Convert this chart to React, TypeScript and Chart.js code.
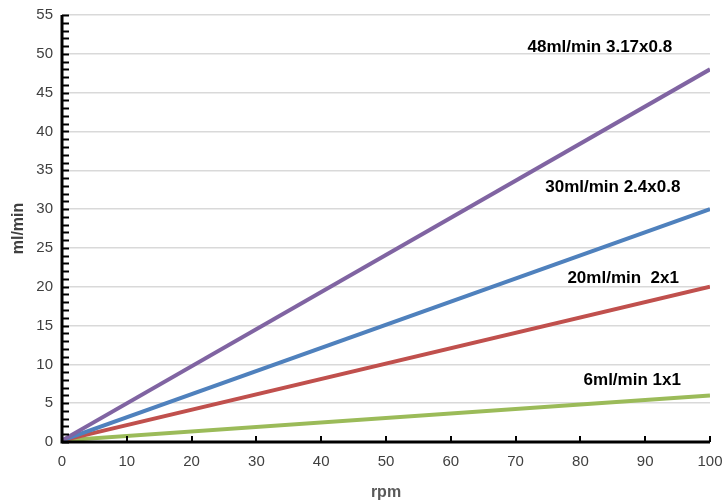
import React, { useEffect, useRef } from "react";
import { Chart, registerables } from "chart.js";
Chart.register(...registerables);

const rpm = [0, 100];
const series48 = [0.2, 48];
const series30 = [0.2, 30];
const series20 = [0.2, 20];
const series6 = [0.2, 6];
const seriesNames = ["48ml/min 3.17x0.8", "30ml/min 2.4x0.8", "20ml/min  2x1", "6ml/min 1x1"];
const seriesColors = ["#8064A2", "#4F81BD", "#C0504D", "#9BBB59"];
const labelPos = [
  [83, 50.9],
  [85, 32.8],
  [86.6, 21.1],
  [88, 8.0],
];

const toPts = (ys: number[]) => rpm.map((x, i) => ({ x, y: ys[i] }));

const axisPlugin = {
  id: "axisPlugin",
  afterDatasetsDraw(chart: any) {
    const { ctx, chartArea, scales } = chart;
    const xs = scales.x;
    const ys = scales.y;
    ctx.save();
    ctx.strokeStyle = "#000";
    ctx.lineWidth = 2;
    for (let v = 0; v <= 55; v += 1) {
      const py = Math.round(ys.getPixelForValue(v)) + 0.5;
      ctx.beginPath();
      ctx.moveTo(chartArea.left, py);
      ctx.lineTo(chartArea.left + 7, py);
      ctx.stroke();
    }
    for (let v = 10; v <= 100; v += 10) {
      const px = Math.round(xs.getPixelForValue(v));
      ctx.beginPath();
      ctx.moveTo(px, chartArea.bottom);
      ctx.lineTo(px, chartArea.bottom - 6);
      ctx.stroke();
    }
    ctx.lineWidth = 3;
    ctx.beginPath();
    ctx.moveTo(chartArea.left, chartArea.top);
    ctx.lineTo(chartArea.left, chartArea.bottom);
    ctx.lineTo(chartArea.right, chartArea.bottom);
    ctx.stroke();
    ctx.fillStyle = "#000";
    ctx.font = "bold 17px 'Liberation Sans', sans-serif";
    ctx.textAlign = "center";
    ctx.textBaseline = "middle";
    seriesNames.forEach((n, i) => {
      ctx.fillText(n, xs.getPixelForValue(labelPos[i][0]), ys.getPixelForValue(labelPos[i][1]));
    });
    ctx.restore();
  },
};

export default function App() {
  const ref = useRef<HTMLCanvasElement>(null);
  useEffect(() => {
    document.body.style.margin = "0";
    const datasets = [series48, series30, series20, series6].map((s, i) => ({
      label: seriesNames[i],
      data: toPts(s),
      borderColor: seriesColors[i],
      backgroundColor: seriesColors[i],
      borderWidth: 4,
      pointRadius: 0,
      tension: 0,
    }));
    const chart = new Chart(ref.current!, {
      type: "line",
      data: { datasets },
      plugins: [axisPlugin],
      options: {
        animation: false,
        responsive: false,
        maintainAspectRatio: false,
        layout: { padding: { top: 15, right: 17, left: 0, bottom: 0 } },
        plugins: { legend: { display: false }, tooltip: { enabled: false } },
        scales: {
          x: {
            type: "linear",
            min: 0,
            max: 100,
            ticks: { stepSize: 10, color: "#404040", font: { size: 15, family: "'Liberation Sans', sans-serif" }, padding: 11 },
            grid: { display: false, drawTicks: false },
            border: { display: false },
            title: { display: true, text: "rpm", color: "#595959", font: { size: 16, weight: "bold", family: "'Liberation Sans', sans-serif" }, padding: { top: 8, bottom: 0 } },
            afterFit: (s: any) => { s.height = 60; s.paddingLeft = 0; s.paddingRight = 0; },
          },
          y: {
            min: 0,
            max: 55,
            ticks: { stepSize: 5, color: "#404040", font: { size: 15, family: "'Liberation Sans', sans-serif" }, padding: 9 },
            grid: { color: "#D9D9D9", lineWidth: 1.5, drawTicks: false },
            border: { display: false },
            title: { display: true, text: "ml/min", color: "#404040", font: { size: 16, weight: "bold", family: "'Liberation Sans', sans-serif" }, padding: { top: 9, bottom: 0 } },
            afterFit: (s: any) => { s.width = 62; s.paddingTop = 0; s.paddingBottom = 0; },
          },
        },
      },
    });
    return () => chart.destroy();
  }, []);
  return (
    <div style={{ position: "absolute", left: 0, top: 0, width: 727, height: 502, background: "#fff" }}>
      <canvas ref={ref} width={727} height={502} style={{ width: 727, height: 502 }} />
    </div>
  );
}
